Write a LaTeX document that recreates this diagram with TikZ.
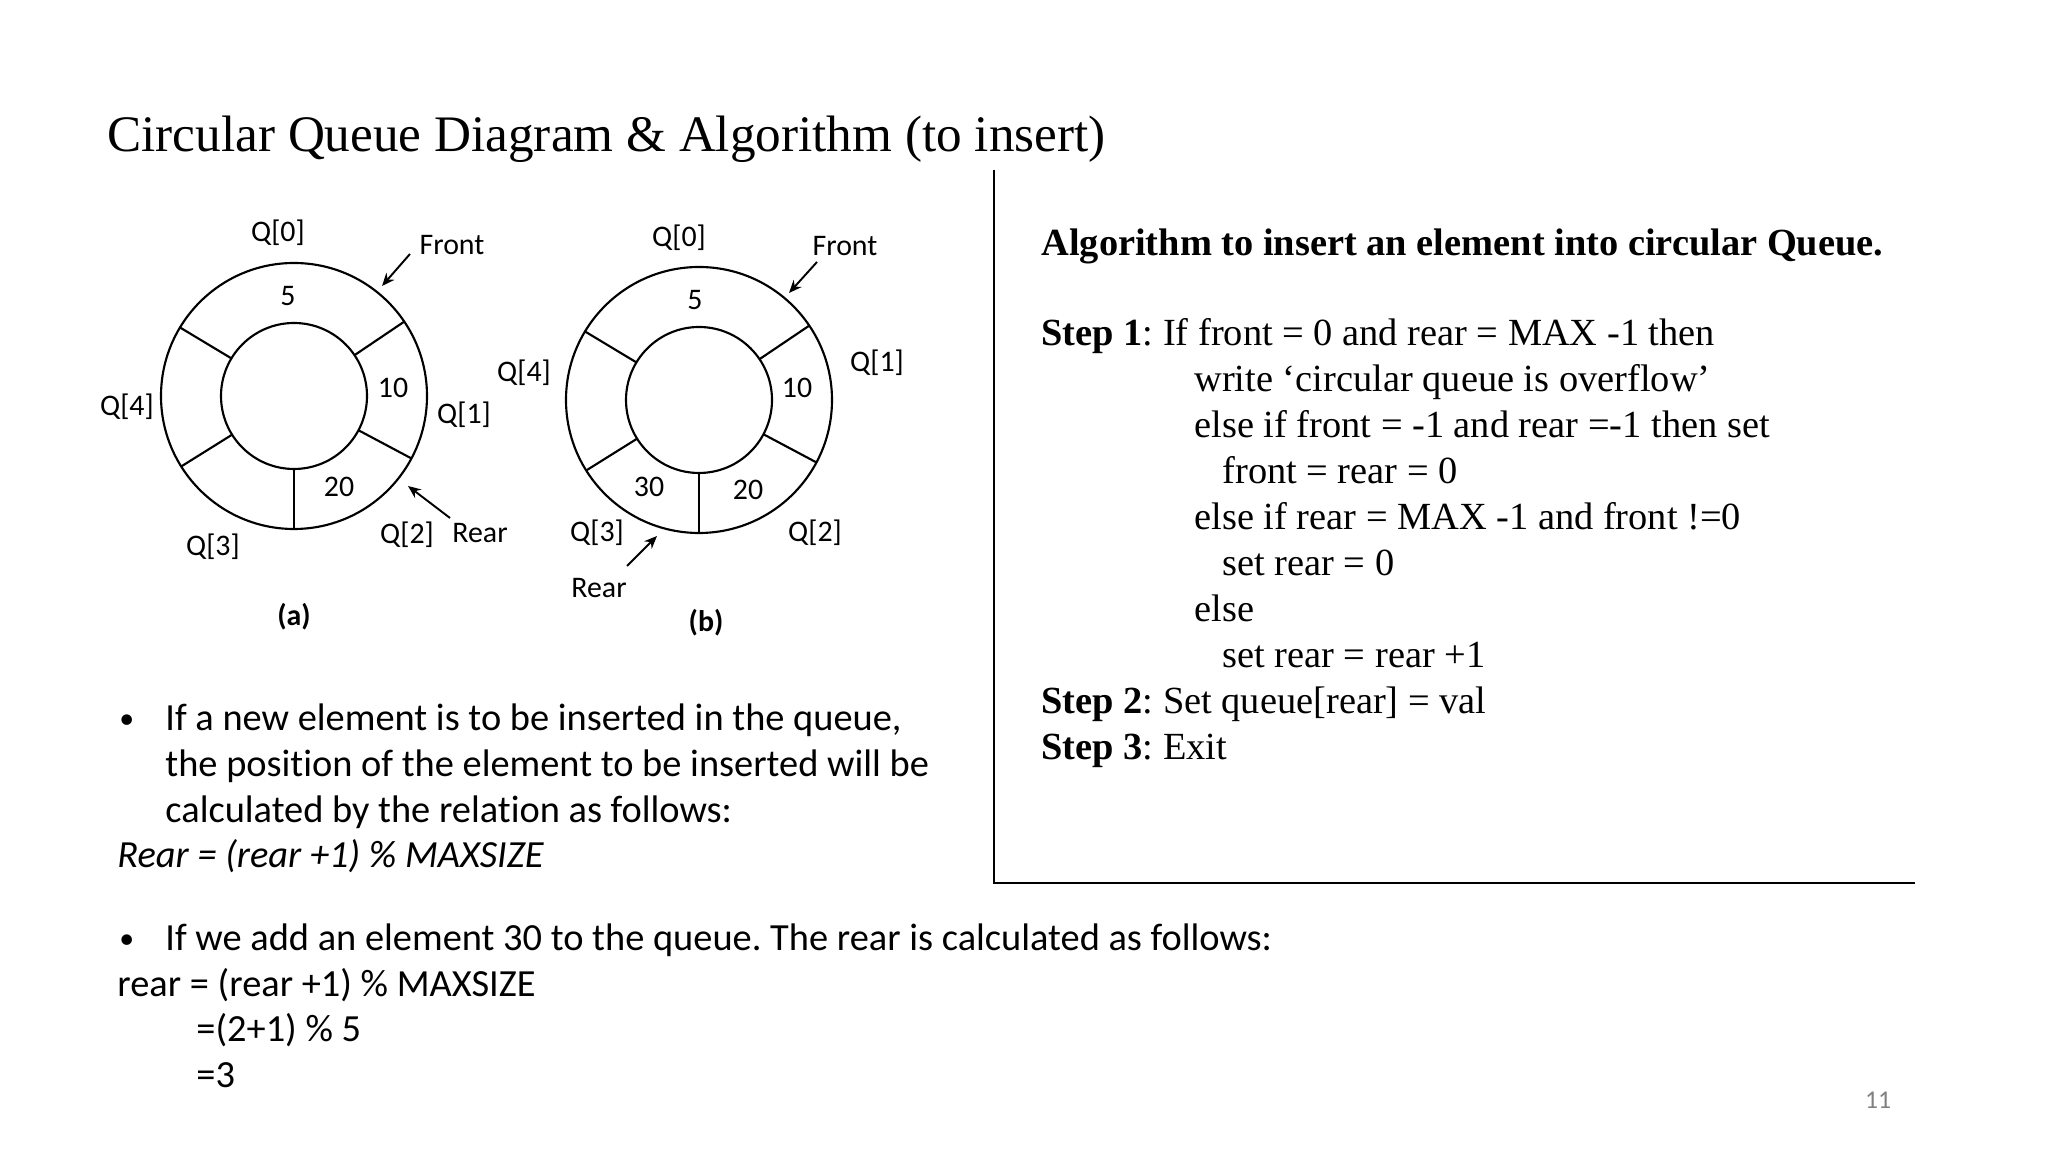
\documentclass[tikz,border=0pt]{standalone}
\usepackage{fontspec}
\setmainfont{Liberation Serif}
\newfontfamily\calibri[Ligatures=CommonOff]{Carlito}
\usepackage{tikz}
\usetikzlibrary{arrows.meta, positioning, calc}
\frenchspacing

\begin{document}
\begin{tikzpicture}[x=0.46875pt, y=0.46875pt,
    ring/.style={line width=1pt},
    ptr/.style={-{Stealth[length=6pt, width=5pt]}, line width=0.9pt},
    lbl/.style={font=\calibri\fontsize{14}{17}\selectfont, inner sep=0pt},
    algo/.style={anchor=base west, inner sep=0pt, font=\fontsize{18}{21.6}\selectfont},
    body/.style={anchor=base west, inner sep=0pt, font=\calibri\fontsize{18}{21.6}\selectfont}]
    % page
    \useasboundingbox (0,0) rectangle (2048,1152);

    % title
    \node[anchor=base west, inner sep=0pt, font=\fontsize{24}{28}\selectfont] (title) at (107,1000) {Circular Queue Diagram \& Algorithm (to insert)};

    % queue (a)
    \coordinate (ca) at (294,756);
    \draw[ring] (ca) circle[radius=133] (ca) circle[radius=73];
    \foreach \ang in {34,149,212,270,332}
        \draw[ring] ($(ca)+(\ang:73)$) -- ($(ca)+(\ang:133)$);
    \node[lbl] (a-q0) at (278,919) {Q[0]};
    \node[lbl] (a-q1) at (464,737) {Q[1]};
    \node[lbl] (a-q2) at (407,617) {Q[2]};
    \node[lbl] (a-q3) at (213,605) {Q[3]};
    \node[lbl] (a-q4) at (127,745) {Q[4]};
    \node[lbl] (a-v0) at (288,856) {5};
    \node[lbl] (a-v1) at (393,764) {10};
    \node[lbl] (a-v2) at (339,665) {20};
    \node[lbl] (a-front) at (452,907) {Front};
    \node[lbl] (a-rear) at (480,619) {Rear};
    \node[lbl, font=\calibri\bfseries\fontsize{14}{17}\selectfont] (a-cap) at (294,535) {(a)};
    \coordinate (a-ftail) at (410,898);
    \coordinate (a-fhead) at (382,866);
    \coordinate (a-rtail) at (450,634);
    \coordinate (a-rhead) at (408,666);
    \draw[ptr] (a-ftail) -- (a-fhead);
    \draw[ptr] (a-rtail) -- (a-rhead);

    % queue (b) after inserting 30
    \coordinate (cb) at (699,752);
    \draw[ring] (cb) circle[radius=133] (cb) circle[radius=73];
    \foreach \ang in {34,149,212,270,332}
        \draw[ring] ($(cb)+(\ang:73)$) -- ($(cb)+(\ang:133)$);
    \node[lbl] (b-q0) at (679,914) {Q[0]};
    \node[lbl] (b-q1) at (877,789) {Q[1]};
    \node[lbl] (b-q2) at (815,619) {Q[2]};
    \node[lbl] (b-q3) at (597,619) {Q[3]};
    \node[lbl] (b-q4) at (524,779) {Q[4]};
    \node[lbl] (b-v0) at (695,852) {5};
    \node[lbl] (b-v1) at (797,764) {10};
    \node[lbl] (b-v2) at (748,662) {20};
    \node[lbl] (b-v3) at (649,665) {30};
    \node[lbl] (b-front) at (845,906) {Front};
    \node[lbl] (b-rear) at (599,564) {Rear};
    \node[lbl, font=\calibri\bfseries\fontsize{14}{17}\selectfont] (b-cap) at (706,529) {(b)};
    \coordinate (b-ftail) at (817,890);
    \coordinate (b-fhead) at (789,859);
    \coordinate (b-rtail) at (627,586);
    \coordinate (b-rhead) at (657,616);
    \draw[ptr] (b-ftail) -- (b-fhead);
    \draw[ptr] (b-rtail) -- (b-rhead);

    % algorithm box
    \coordinate (box-top) at (994,982);
    \coordinate (box-corner) at (994,269);
    \coordinate (box-end) at (1915,269);
    \draw[line width=1pt] (box-top) -- (box-corner) -- (box-end);
    \node[algo, font=\bfseries\fontsize{18}{21.6}\selectfont] (alg-head) at (1041,896) {Algorithm to insert an element into circular Queue.};
    \node[algo] (step1) at (1041,806) {\textbf{Step 1}: If front = 0 and rear = MAX -1 then};
    \node[algo] (s1-write) at (1194,760) {write `circular queue is overflow'};
    \node[algo] (s1-else1) at (1194,714) {else if front = -1 and rear =-1 then set};
    \node[algo] (s1-set1) at (1222,668) {front = rear = 0};
    \node[algo] (s1-else2) at (1194,622) {else if rear = MAX -1 and front !=0};
    \node[algo] (s1-set2) at (1222,576) {set rear = 0};
    \node[algo] (s1-else3) at (1194,530) {else};
    \node[algo] (s1-set3) at (1222,484) {set rear = rear +1};
    \node[algo] (step2) at (1041,438) {\textbf{Step 2}: Set queue[rear] = val};
    \node[algo] (step3) at (1041,392) {\textbf{Step 3}: Exit};

    % notes below the diagrams
    \node[body, font=\calibri\fontsize{14}{17}\selectfont] (b1-dot) at (119,423) {•};
    \node[body] (b1-l1) at (165,421) {If a new element is to be inserted in the queue,};
    \node[body] (b1-l2) at (165,375) {the position of the element to be inserted will be};
    \node[body] (b1-l3) at (165,329) {calculated by the relation as follows:};
    \node[body, font=\calibri\itshape\fontsize{18}{21.6}\selectfont] (b1-rel) at (117,284) {Rear = (rear +1) \% MAXSIZE};
    \node[body, font=\calibri\fontsize{14}{17}\selectfont] (b2-dot) at (119,203) {•};
    \node[body] (b2-l1) at (165,201) {If we add an element 30 to the queue. The rear is calculated as follows:};
    \node[body] (b2-rel) at (117,155) {rear = (rear +1) \% MAXSIZE};
    \node[body] (b2-step) at (196,110) {=(2+1) \% 5};
    \node[body] (b2-res) at (196,64) {=3};

    % page number
    \node[font=\calibri\fontsize{12}{14}\selectfont, text=gray] (pageno) at (1878,52) {11};
\end{tikzpicture}
\end{document}
